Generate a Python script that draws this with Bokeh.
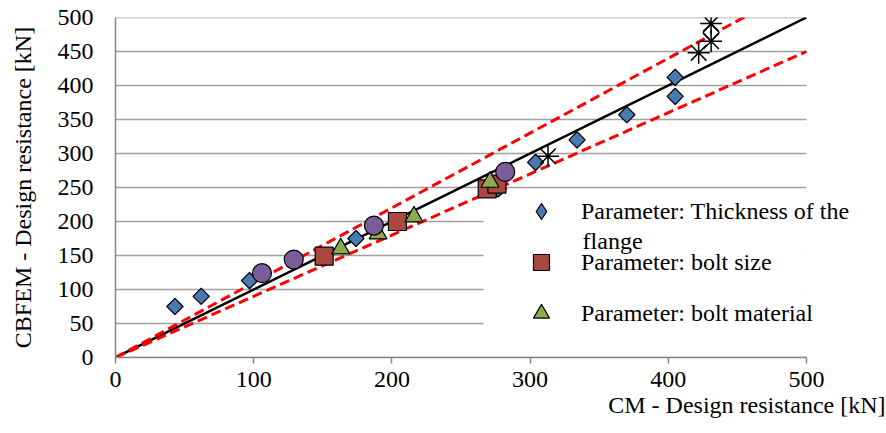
import math
from bokeh.plotting import figure
from bokeh.models import Legend, LegendItem, Label, FixedTicker, Title, BoxAnnotation
from bokeh.embed import file_html
from bokeh.resources import INLINE

# ---- data ----
thick_x = [43, 62, 97, 174, 277, 304, 334, 370, 405, 405]
thick_y = [75, 90, 113, 175, 248, 287, 320, 357, 412, 384]
size_x = [151, 204, 269, 276]
size_y = [149, 200, 248, 255]
mat_x = [163, 190, 216, 271]
mat_y = [160, 182, 207, 258]
circ_x = [106, 129, 187, 282]
circ_y = [124, 144, 194, 273]
hollow_x = [431]
hollow_y = [478]
star_x = [313, 422, 431, 431]
star_y = [296, 448, 465, 491]
line_x = [0, 500]
equal_y = [0, 500]
upper_y = [0, 550]
lower_y = [0, 450]
x_ticks = [0, 100, 200, 300, 400, 500]
y_ticks = [0, 50, 100, 150, 200, 250, 300, 350, 400, 450, 500]
x_max = 500

FONT = "Liberation Serif"
FS = "24px"

# frame: 115..885 px wide at 1.382 px per unit -> x range to 557.2
p = figure(width=886, height=433, x_range=(0, 557.2), y_range=(0, 500),
           output_backend="svg", toolbar_location=None,
           min_border_left=115, min_border_right=1, min_border_top=17, min_border_bottom=76)
p.outline_line_color = None
p.xgrid.visible = False
p.ygrid.visible = False

# horizontal gridlines, only across 0..500
p.segment(x0=[0] * len(y_ticks), x1=[x_max] * len(y_ticks), y0=y_ticks, y1=y_ticks,
          line_color="#a0a0a0", line_width=1.5, level="underlay")
# white legend area hiding the gridlines behind the legend
p.add_layout(BoxAnnotation(left=266.3, right=x_max, bottom=10, top=230.9,
                           fill_color="white", fill_alpha=1, line_color=None,
                           level="underlay"))

for ax in (p.xaxis, p.yaxis):
    ax.axis_line_color = "#868686"
    ax.axis_line_width = 1.5
    ax.major_tick_line_color = "#868686"
    ax.major_tick_line_width = 1.5
    ax.minor_tick_line_color = None
    ax.major_label_text_font = FONT
    ax.major_label_text_font_size = FS
    ax.major_label_text_color = "black"
p.xaxis.bounds = (0, x_max)
p.xaxis.ticker = FixedTicker(ticks=x_ticks)
p.yaxis.ticker = FixedTicker(ticks=y_ticks)
p.xaxis.major_tick_in = 0
p.xaxis.major_tick_out = 6
p.xaxis.major_label_standoff = 8
p.yaxis.major_tick_in = 0
p.yaxis.major_tick_out = 0
p.yaxis.major_label_standoff = 22

p.yaxis.axis_label = "CBFEM - Design resistance [kN]"
p.yaxis.axis_label_text_font = FONT
p.yaxis.axis_label_text_font_size = FS
p.yaxis.axis_label_text_font_style = "normal"
p.yaxis.axis_label_text_color = "black"
p.yaxis.axis_label_standoff = 19

# reference lines
p.line(line_x, equal_y, line_color="black", line_width=2.5)
p.line(line_x, upper_y, line_color="#ff0000", line_width=3, line_dash="10 5")
p.line(line_x, lower_y, line_color="#ff0000", line_width=3, line_dash="10 5")

# markers (the diamond-shaped swatch renderer sits exactly beneath the rotated squares)
r1 = p.scatter(thick_x, thick_y, marker="diamond", size=15,
               fill_color="#4a78b0", line_color="black", line_width=1.2)
p.scatter(thick_x, thick_y, marker="square", angle=math.pi / 4, size=11.5,
          fill_color="#4a78b0", line_color="black", line_width=1.2)
p.scatter(hollow_x, hollow_y, marker="square", angle=math.pi / 4, size=11.5,
          fill_color="white", line_color="black", line_width=1.2)
r2 = p.scatter(size_x, size_y, marker="square", size=18,
               fill_color="#a94740", line_color="black", line_width=1.2)
r3 = p.scatter(mat_x, mat_y, marker="triangle", size=18,
               fill_color="#8daa4c", line_color="black", line_width=1.2)
p.scatter(circ_x, circ_y, marker="circle", size=19,
          fill_color="#7b5c9a", line_color="black", line_width=1.2)
p.scatter(star_x, star_y, marker="asterisk", size=22,
          line_color="black", line_width=1.5)

legend = Legend(items=[
    LegendItem(label="Parameter: Thickness of the", renderers=[r1]),
    LegendItem(label="Parameter: bolt size", renderers=[r2]),
    LegendItem(label="Parameter: bolt material", renderers=[r3]),
], location=(386, 24))
legend.padding = 0
legend.margin = 0
legend.glyph_width = 80
legend.glyph_height = 40
legend.label_height = 40
legend.spacing = 11
legend.label_standoff = 0
legend.border_line_color = None
legend.background_fill_alpha = 0
legend.label_text_font = FONT
legend.label_text_font_size = FS
legend.label_text_color = "black"
p.add_layout(legend)

p.add_layout(Label(x=338, y=170.6, text="flange", text_font=FONT, text_font_size=FS,
                   text_baseline="middle", text_align="left", text_color="black"))

p.add_layout(Title(text="CM - Design resistance [kN]", align="right", text_font=FONT,
                   text_font_size=FS, text_font_style="normal", text_color="black",
                   standoff=0, offset=0), "below")

open("out.html", "w").write(file_html(p, INLINE))
